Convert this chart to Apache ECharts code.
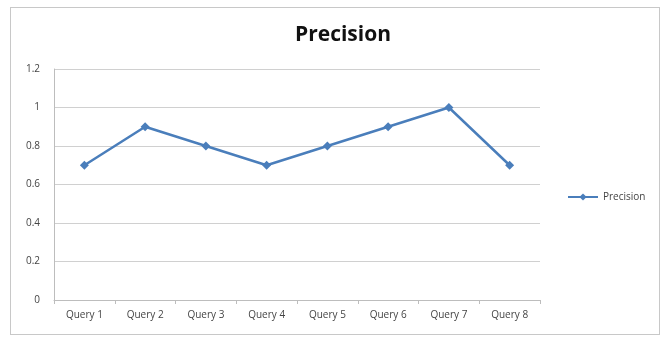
<!DOCTYPE html>
<html>
<head>
<meta charset="utf-8">
<script src="https://cdn.jsdelivr.net/npm/echarts@6/dist/echarts.min.js"></script>
<style>
  html, body { margin: 0; padding: 0; background: #fff; }
  #frame { position: absolute; left: 10px; top: 7px; width: 650px; height: 328px; border: 1px solid #c8c8c8; box-sizing: border-box; }
  #chart { position: absolute; left: 0; top: 0; width: 669px; height: 338px; }
</style>
</head>
<body>
<div id="frame"></div>
<div id="chart"></div>
<script>
const categories = ['Query 1', 'Query 2', 'Query 3', 'Query 4', 'Query 5', 'Query 6', 'Query 7', 'Query 8'];
const precision = [0.7, 0.9, 0.8, 0.7, 0.8, 0.9, 1.0, 0.7];
const seriesName = 'Precision';

const chart = echarts.init(document.getElementById('chart'), null, { renderer: 'canvas' });
chart.setOption({
  animation: false,
  backgroundColor: 'transparent',
  title: {
    text: 'Precision',
    left: 338, top: 20, textAlign: 'center',
    textStyle: { fontFamily: 'Open Sans', fontWeight: 'bold', fontSize: 21, color: '#111' }
  },
  legend: {
    data: [seriesName],
    left: 562, top: 187,
    itemWidth: 30, itemHeight: 9,
    itemGap: 4,
    textStyle: { fontFamily: 'Open Sans', fontSize: 10, color: '#444' }
  },
  grid: { left: 54, right: 129, top: 69, bottom: 38 },
  xAxis: {
    type: 'category',
    data: categories,
    boundaryGap: true,
    axisLine: { lineStyle: { color: '#bdbdbd' } },
    axisTick: { show: true, length: 4, lineStyle: { color: '#bdbdbd' } },
    axisLabel: { fontFamily: 'Open Sans', fontSize: 10, color: '#444', margin: 10 }
  },
  yAxis: {
    type: 'value',
    min: 0, max: 1.2, interval: 0.2,
    axisLine: { show: true, lineStyle: { color: '#bdbdbd' } },
    axisTick: { show: false },
    splitLine: { lineStyle: { color: '#d0d0d0' } },
    axisLabel: {
      fontFamily: 'Open Sans', fontSize: 10, color: '#444', margin: 14,
      formatter: v => String(Math.round(v * 10) / 10)
    }
  },
  series: [{
    name: seriesName,
    type: 'line',
    data: precision,
    symbol: 'diamond',
    symbolSize: 9,
    lineStyle: { color: '#4a7ebb', width: 2.5 },
    itemStyle: { color: '#4a7ebb' }
  }]
});
</script>
</body>
</html>
